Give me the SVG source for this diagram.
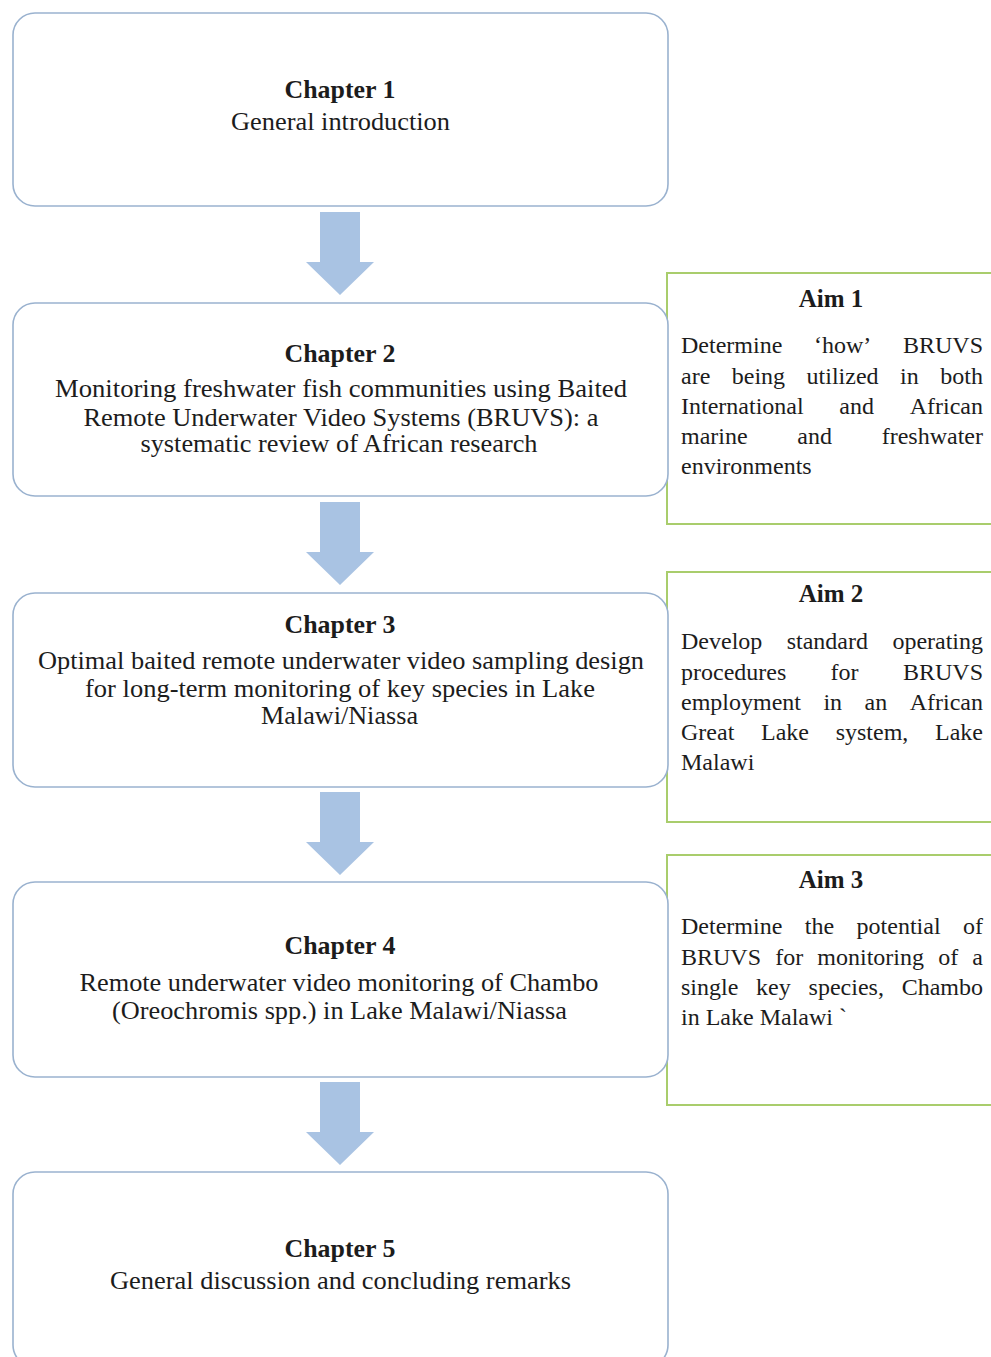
<svg xmlns="http://www.w3.org/2000/svg" width="991" height="1357" viewBox="0 0 991 1357">
<style>
.ch{fill:#ffffff;stroke:#9ab2cf;stroke-width:1.6}
.aim{fill:#ffffff;stroke:#a9cd6c;stroke-width:2}
.arr{fill:#a9c3e3}
text{font-family:"Liberation Serif","Times New Roman",serif;fill:#1c1c1c}
.t{font-size:25px;font-weight:bold;text-anchor:middle}
.b{font-size:25px;text-anchor:middle}
.at{font-size:25px;font-weight:bold;text-anchor:middle}
.ab{font-size:24px}
</style>
<rect width="991" height="1357" fill="#ffffff"/>
<g id="connectors">
<path class="arr" d="M320,212 H360 V262 H374 L340,295 L306,262 H320 Z"/>
<path class="arr" d="M320,502 H360 V552 H374 L340,585 L306,552 H320 Z"/>
<path class="arr" d="M320,792 H360 V842 H374 L340,875 L306,842 H320 Z"/>
<path class="arr" d="M320,1082 H360 V1132 H374 L340,1165 L306,1132 H320 Z"/>
</g>
<g id="aim1">
<rect class="aim" x="667" y="273" width="340" height="251"/>
<text class="at" x="831" y="307">Aim 1</text>
<text class="ab" y="353"><tspan x="681">Determine</tspan><tspan x="814">‘how’</tspan><tspan x="903">BRUVS</tspan></text>
<text class="ab" y="383.5"><tspan x="681">are</tspan><tspan x="731.8">being</tspan><tspan x="806.6">utilized</tspan><tspan x="900.1">in</tspan><tspan x="940.3">both</tspan></text>
<text class="ab" y="414"><tspan x="681">International</tspan><tspan x="839.3">and</tspan><tspan x="909.7">African</tspan></text>
<text class="ab" y="444"><tspan x="681">marine</tspan><tspan x="797.3">and</tspan><tspan x="881.7">freshwater</tspan></text>
<text class="ab" y="474"><tspan x="681">environments</tspan></text>
</g>
<g id="aim2">
<rect class="aim" x="667" y="572" width="340" height="250"/>
<text class="at" x="831" y="602">Aim 2</text>
<text class="ab" y="649"><tspan x="681">Develop</tspan><tspan x="786.7">standard</tspan><tspan x="892.4">operating</tspan></text>
<text class="ab" y="679.5"><tspan x="681">procedures</tspan><tspan x="830.6">for</tspan><tspan x="903">BRUVS</tspan></text>
<text class="ab" y="710"><tspan x="681">employment</tspan><tspan x="823.4">in</tspan><tspan x="864.6">an</tspan><tspan x="909.7">African</tspan></text>
<text class="ab" y="740"><tspan x="681">Great</tspan><tspan x="761">Lake</tspan><tspan x="835.7">system,</tspan><tspan x="935">Lake</tspan></text>
<text class="ab" y="770"><tspan x="681">Malawi</tspan></text>
</g>
<g id="aim3">
<rect class="aim" x="667" y="855" width="340" height="250"/>
<text class="at" x="831" y="888">Aim 3</text>
<text class="ab" y="934"><tspan x="681">Determine</tspan><tspan x="804.8">the</tspan><tspan x="856.6">potential</tspan><tspan x="963">of</tspan></text>
<text class="ab" y="964.5"><tspan x="681">BRUVS</tspan><tspan x="775.2">for</tspan><tspan x="817.3">monitoring</tspan><tspan x="938.2">of</tspan><tspan x="972.3">a</tspan></text>
<text class="ab" y="995"><tspan x="681">single</tspan><tspan x="756.1">key</tspan><tspan x="808.6">species,</tspan><tspan x="901.7">Chambo</tspan></text>
<text class="ab" y="1025"><tspan x="681">in Lake Malawi `</tspan></text>
</g>
<g id="chapter1">
<rect class="ch" x="13" y="13" width="655" height="193" rx="22"/>
<text class="t" x="340" y="98" textLength="111" lengthAdjust="spacingAndGlyphs">Chapter 1</text>
<text class="b" x="340.5" y="130" textLength="219" lengthAdjust="spacingAndGlyphs">General introduction</text>
</g>
<g id="chapter2">
<rect class="ch" x="13" y="303" width="655" height="193" rx="22"/>
<text class="t" x="340" y="362" textLength="111" lengthAdjust="spacingAndGlyphs">Chapter 2</text>
<text class="b" x="341" y="397" textLength="572" lengthAdjust="spacingAndGlyphs">Monitoring freshwater fish communities using  Baited</text>
<text class="b" x="341" y="426" textLength="515" lengthAdjust="spacingAndGlyphs">Remote Underwater Video Systems (BRUVS): a</text>
<text class="b" x="339" y="452" textLength="397" lengthAdjust="spacingAndGlyphs">systematic review of African research</text>
</g>
<g id="chapter3">
<rect class="ch" x="13" y="593" width="655" height="194" rx="22"/>
<text class="t" x="340" y="633" textLength="111" lengthAdjust="spacingAndGlyphs">Chapter 3</text>
<text class="b" x="341" y="669" textLength="606" lengthAdjust="spacingAndGlyphs">Optimal baited remote underwater video sampling design</text>
<text class="b" x="340" y="697" textLength="510" lengthAdjust="spacingAndGlyphs">for long-term monitoring of key species in Lake</text>
<text class="b" x="339.5" y="724" textLength="157" lengthAdjust="spacingAndGlyphs">Malawi/Niassa</text>
</g>
<g id="chapter4">
<rect class="ch" x="13" y="882" width="655" height="195" rx="22"/>
<text class="t" x="340" y="954" textLength="111" lengthAdjust="spacingAndGlyphs">Chapter 4</text>
<text class="b" x="339" y="991" textLength="519" lengthAdjust="spacingAndGlyphs">Remote underwater video monitoring of Chambo</text>
<text class="b" x="339.5" y="1019" textLength="455" lengthAdjust="spacingAndGlyphs">(Oreochromis spp.) in Lake Malawi/Niassa</text>
</g>
<g id="chapter5">
<rect class="ch" x="13" y="1172" width="655" height="195" rx="22"/>
<text class="t" x="340" y="1257" textLength="111" lengthAdjust="spacingAndGlyphs">Chapter 5</text>
<text class="b" x="340.5" y="1289" textLength="461" lengthAdjust="spacingAndGlyphs">General discussion and concluding remarks</text>
</g>
</svg>
